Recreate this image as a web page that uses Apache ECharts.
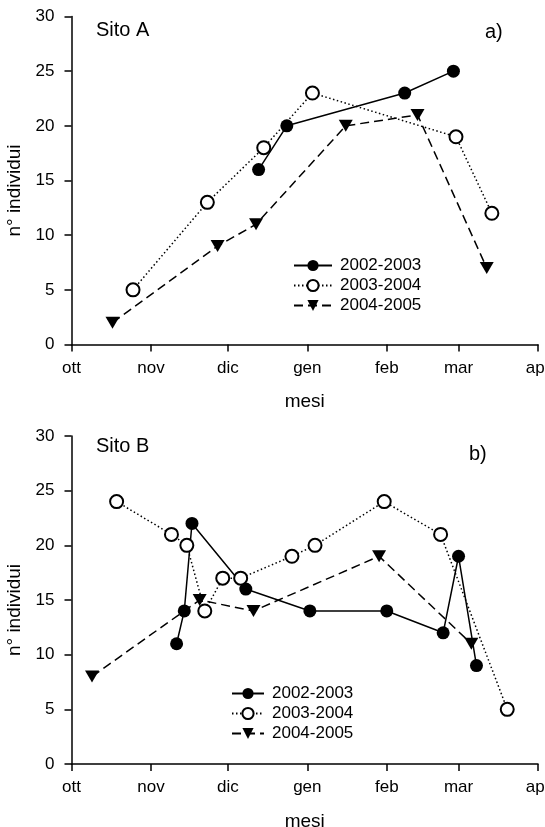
<!DOCTYPE html>
<html>
<head>
<meta charset="utf-8">
<script src="https://cdn.jsdelivr.net/npm/echarts@6/dist/echarts.min.js"></script>
<style>
html,body{margin:0;padding:0;background:#fff;}
#c{width:545px;height:827px;}
</style>
</head>
<body>
<div id="c"></div>
<script>
// x values: days counted from 1 October; y values: number of individuals
const monthLabels = ['ott','nov','dic','gen','feb','mar','apr'];
const monthDays = [0, 31, 61, 92, 123, 151, 182];
const yTicks = [0, 5, 10, 15, 20, 25, 30];
const seriesNames = ['2002-2003', '2003-2004', '2004-2005'];

// Sito A
const sitoA_2002_2003 = [[73, 16], [84, 20], [130, 23], [149, 25]];
const sitoA_2003_2004 = [[24, 5], [53, 13], [75, 18], [94, 23], [150, 19], [164, 12]];
const sitoA_2004_2005 = [[16, 2], [57, 9], [72, 11], [107, 20], [135, 21], [162, 7]];

// Sito B
const sitoB_2002_2003 = [[41, 11], [44, 14], [47, 22], [68, 16], [93, 14], [123, 14], [145, 12], [151, 19], [158, 9]];
const sitoB_2003_2004 = [[17.6, 24], [39, 21], [45, 20], [52, 14], [59, 17], [66, 17], [86, 19], [95, 20], [122, 24], [144, 21], [170, 5]];
const sitoB_2004_2005 = [[8, 8], [50, 15], [71, 14], [120, 19], [156, 11]];

const FONT = "'Liberation Sans', Arial, Helvetica, sans-serif";
const chart = echarts.init(document.getElementById('c'), null, {renderer: 'canvas'});

function xAxisDef(gridIndex) {
  return {
    type: 'value', gridIndex: gridIndex, min: 0, max: 182,
    name: 'mesi', nameLocation: 'middle', nameGap: 48,
    nameTextStyle: {fontFamily: FONT, fontSize: 19, color: '#000'},
    axisLine: {onZero: false, lineStyle: {color: '#000', width: 1.5}},
    axisTick: {show: true, customValues: monthDays, length: 7, lineStyle: {color: '#000', width: 1.5}},
    axisLabel: {
      customValues: monthDays, margin: 15, color: '#000', fontFamily: FONT, fontSize: 17,
      formatter: function (v) { const i = monthDays.indexOf(v); return i >= 0 ? monthLabels[i] : ''; }
    },
    splitLine: {show: false}
  };
}
function yAxisDef(gridIndex) {
  return {
    type: 'value', gridIndex: gridIndex, min: 0, max: 30, interval: 5,
    name: 'n° individui', nameLocation: 'middle', nameGap: 40, nameRotate: 90,
    nameTextStyle: {fontFamily: FONT, fontSize: 19, color: '#000', padding: [0, 20, 0, 0]},
    axisLine: {onZero: false, lineStyle: {color: '#000', width: 1.5}},
    axisTick: {show: true, length: 7, lineStyle: {color: '#000', width: 1.5}},
    axisLabel: {margin: 17, color: '#000', fontFamily: FONT, fontSize: 17},
    splitLine: {show: false}
  };
}

const styles = [
  {symbol: 'circle', symbolSize: 13, symbolRotate: 0, itemStyle: {color: '#000'}, lineType: 'solid'},
  {symbol: 'emptyCircle', symbolSize: 13, symbolRotate: 0, itemStyle: {color: '#000', borderWidth: 1.5}, lineType: [1.5, 2.5]},
  {symbol: 'triangle', symbolSize: [14, 12], symbolRotate: 180, itemStyle: {color: '#000'}, lineType: [9, 5]}
];

function mkSeries(name, data, idx, gridIndex) {
  const s = styles[idx];
  return {
    type: 'line', name: name, data: data,
    xAxisIndex: gridIndex, yAxisIndex: gridIndex,
    symbol: s.symbol, symbolSize: s.symbolSize, symbolRotate: s.symbolRotate,
    showAllSymbol: true, animation: false,
    itemStyle: s.itemStyle,
    lineStyle: {color: '#000', width: 1.5, type: s.lineType},
    emphasis: {disabled: true}
  };
}

const legendCommon = {
  orient: 'vertical', padding: 0, itemGap: 3, itemHeight: 14,
  textStyle: {fontFamily: FONT, fontSize: 17, color: '#000', padding: [0, 0, 0, 3]},
  data: seriesNames, selectedMode: false
};

chart.setOption({
  backgroundColor: '#fff',
  animation: false,
  grid: [
    {left: 71.5, top: 16.5, width: 466.5, height: 328, outerBoundsMode: 'none', containLabel: false},
    {left: 71.5, top: 436, width: 466.5, height: 328, outerBoundsMode: 'none', containLabel: false}
  ],
  xAxis: [xAxisDef(0), xAxisDef(1)],
  yAxis: [yAxisDef(0), yAxisDef(1)],
  legend: [
    Object.assign({}, legendCommon, {left: 293, top: 257, itemWidth: 38}),
    Object.assign({}, legendCommon, {left: 231, top: 685, itemWidth: 32})
  ],
  graphic: [
    {type: 'text', left: 96, top: 20, style: {text: 'Sito A', font: '20px ' + FONT, fill: '#000'}},
    {type: 'text', left: 485, top: 22, style: {text: 'a)', font: '20px ' + FONT, fill: '#000'}},
    {type: 'text', left: 96, top: 436, style: {text: 'Sito B', font: '20px ' + FONT, fill: '#000'}},
    {type: 'text', left: 469, top: 444, style: {text: 'b)', font: '20px ' + FONT, fill: '#000'}}
  ],
  series: [
    mkSeries(seriesNames[0], sitoA_2002_2003, 0, 0),
    mkSeries(seriesNames[1], sitoA_2003_2004, 1, 0),
    mkSeries(seriesNames[2], sitoA_2004_2005, 2, 0),
    mkSeries(seriesNames[0], sitoB_2002_2003, 0, 1),
    mkSeries(seriesNames[1], sitoB_2003_2004, 1, 1),
    mkSeries(seriesNames[2], sitoB_2004_2005, 2, 1)
  ]
});
</script>
</body>
</html>
